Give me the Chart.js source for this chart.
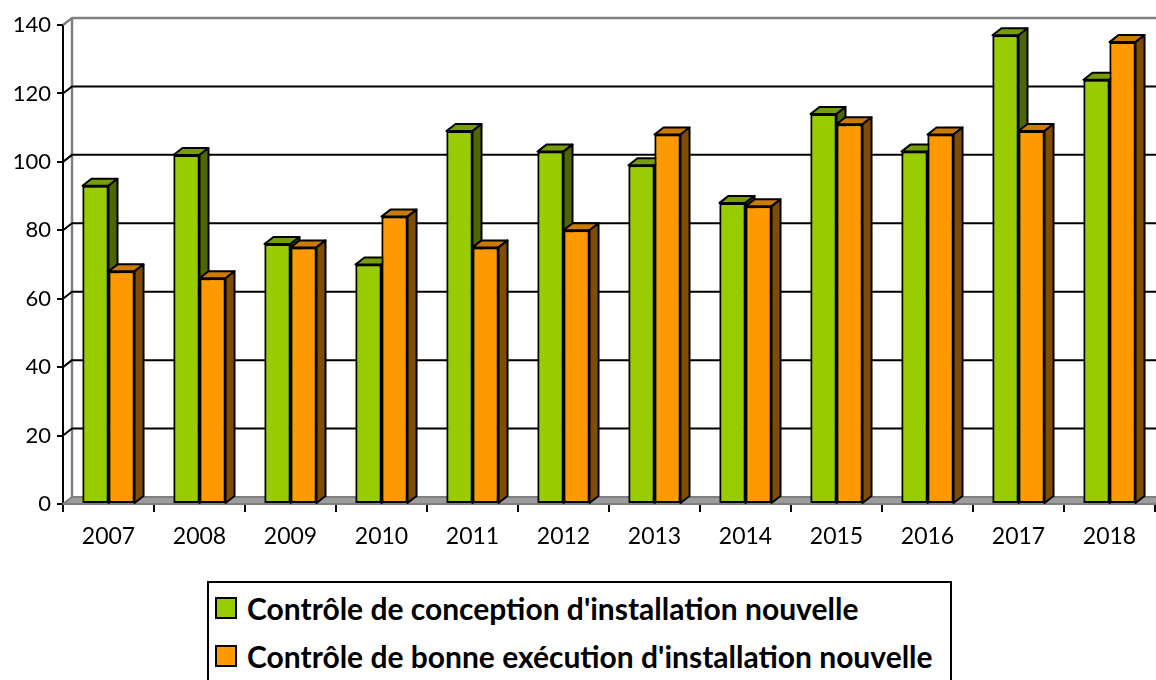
<!DOCTYPE html>
<html>
<head>
<meta charset="utf-8">
<script src="https://cdn.jsdelivr.net/npm/chart.js@4.4.1/dist/chart.umd.min.js"></script>
<style>
  html, body { margin: 0; padding: 0; background: #fff; overflow: hidden; }
  #wrap { position: relative; width: 1156px; height: 680px; }
  #legend {
    position: absolute; left: 207px; top: 581px; width: 745px; height: 130px;
    box-sizing: border-box; border: 2px solid #000; background: #fff;
    font-family: Lato, sans-serif; font-weight: bold; font-size: 30px; color: #000;
  }
  .swatch { position: absolute; left: 6px; width: 22px; height: 22px; box-sizing: border-box; border: 2px solid #000; }
  .label { position: absolute; left: 38px; line-height: 30px; white-space: nowrap; }
</style>
</head>
<body>
<div id="wrap">
  <canvas id="chart" width="1156" height="680"></canvas>
  <div id="legend"></div>
</div>
<script>
const years = ['2007', '2008', '2009', '2010', '2011', '2012', '2013', '2014', '2015', '2016', '2017', '2018'];
const conceptionValues = [93, 102, 76, 70, 109, 103, 99, 88, 114, 103, 137, 124];
const executionValues = [68, 66, 75, 84, 75, 80, 108, 87, 111, 108, 109, 135];
const seriesNames = [
  "Contrôle de conception d'installation nouvelle",
  "Contrôle de bonne exécution d'installation nouvelle"
];
const yMax = 140;
const yStep = 20;

// front / top / side shades of each series
const palette = [
  { front: '#99CC00', top: '#779E00', side: '#4D6600' },
  { front: '#FF9900', top: '#CC7A00', side: '#804D00' }
];

const DX = 9;   // depth offset to the right
const DY = 7;   // depth offset upwards

// back wall, floor and gridlines (behind the bars)
const wallPlugin = {
  id: 'wall3d',
  beforeDatasetsDraw(chart) {
    const { ctx, chartArea, scales: { y } } = chart;
    const left = chartArea.left, right = chartArea.right;
    const y0 = y.getPixelForValue(0);
    const yTop = y.getPixelForValue(yMax);
    ctx.save();
    ctx.lineJoin = 'round';

    // floor
    ctx.fillStyle = '#9c9c9c';
    ctx.strokeStyle = '#7f7f7f';
    ctx.lineWidth = 2;
    ctx.beginPath();
    ctx.moveTo(left, y0);
    ctx.lineTo(left + DX, y0 - DY);
    ctx.lineTo(right + DX, y0 - DY);
    ctx.lineTo(right, y0);
    ctx.closePath();
    ctx.fill();
    ctx.stroke();

    // left wall edge and top edge
    ctx.strokeStyle = '#808080';
    ctx.lineWidth = 2.5;
    ctx.beginPath();
    ctx.moveTo(left + DX, y0 - DY);
    ctx.lineTo(left + DX, yTop - DY);
    ctx.lineTo(right + DX, yTop - DY);
    ctx.moveTo(left, yTop);
    ctx.lineTo(left + DX, yTop - DY);
    ctx.stroke();

    // gridlines on the back wall
    ctx.strokeStyle = '#000';
    ctx.lineWidth = 2;
    for (let v = yStep; v < yMax; v += yStep) {
      const py = y.getPixelForValue(v);
      ctx.beginPath();
      ctx.moveTo(left, py);
      ctx.lineTo(left + DX, py - DY);
      ctx.lineTo(right + DX, py - DY);
      ctx.stroke();
    }
    ctx.restore();
  },

  // redraw the bars category by category with their top and side faces
  afterDatasetsDraw(chart) {
    const { ctx } = chart;
    const metas = [chart.getDatasetMeta(0), chart.getDatasetMeta(1)];
    ctx.save();
    ctx.lineJoin = 'round';
    ctx.strokeStyle = '#000';
    ctx.lineWidth = 2;
    for (let i = 0; i < years.length; i++) {
      metas.forEach((meta, s) => {
        const bar = meta.data[i];
        bar.draw(ctx);
        const { x, y, base, width } = bar.getProps(['x', 'y', 'base', 'width'], true);
        const x1 = x - width / 2, x2 = x + width / 2;
        // top face
        ctx.fillStyle = palette[s].top;
        ctx.beginPath();
        ctx.moveTo(x1, y);
        ctx.lineTo(x1 + DX, y - DY);
        ctx.lineTo(x2 + DX, y - DY);
        ctx.lineTo(x2, y);
        ctx.closePath();
        ctx.fill();
        ctx.stroke();
        // side face
        ctx.fillStyle = palette[s].side;
        ctx.beginPath();
        ctx.moveTo(x2, y);
        ctx.lineTo(x2 + DX, y - DY);
        ctx.lineTo(x2 + DX, base - DY);
        ctx.lineTo(x2, base);
        ctx.closePath();
        ctx.fill();
        ctx.stroke();
      });
    }
    ctx.restore();
  }
};

new Chart(document.getElementById('chart'), {
  type: 'bar',
  data: {
    labels: years,
    datasets: [
      {
        label: seriesNames[0],
        data: conceptionValues,
        backgroundColor: palette[0].front,
        borderColor: '#000',
        borderWidth: 2,
        borderSkipped: false
      },
      {
        label: seriesNames[1],
        data: executionValues,
        backgroundColor: palette[1].front,
        borderColor: '#000',
        borderWidth: 2,
        borderSkipped: false
      }
    ]
  },
  options: {
    responsive: false,
    animation: false,
    categoryPercentage: 0.572,
    barPercentage: 1,
    layout: { padding: { top: 25, right: 1, bottom: 116, left: 0 } },
    plugins: {
      legend: { display: false },
      tooltip: { enabled: false }
    },
    scales: {
      x: {
        grid: { display: true, drawOnChartArea: false, drawTicks: true, tickLength: 8, color: '#000', lineWidth: 2, offset: true },
        border: { display: true, color: '#000', width: 2 },
        ticks: { color: '#000', font: { family: 'Lato, sans-serif', size: 23 }, padding: 11, maxRotation: 0 },
        afterFit(scale) { scale.height = 60; }
      },
      y: {
        min: 0,
        max: yMax,
        grid: { display: true, drawOnChartArea: false, drawTicks: true, tickLength: 6, color: '#000', lineWidth: 2 },
        border: { display: true, color: '#000', width: 2 },
        ticks: { stepSize: yStep, color: '#000', font: { family: 'Lato, sans-serif', size: 22 }, padding: 6 },
        afterFit(scale) { scale.width = 63; }
      }
    }
  },
  plugins: [wallPlugin]
});

// legend box below the chart
const legend = document.getElementById('legend');
seriesNames.forEach((name, s) => {
  const sw = document.createElement('div');
  sw.className = 'swatch';
  sw.style.top = (14 + s * 48) + 'px';
  sw.style.background = palette[s].front;
  const lb = document.createElement('div');
  lb.className = 'label';
  lb.style.top = (10 + s * 48) + 'px';
  lb.textContent = name;
  legend.appendChild(sw);
  legend.appendChild(lb);
});
</script>
</body>
</html>
